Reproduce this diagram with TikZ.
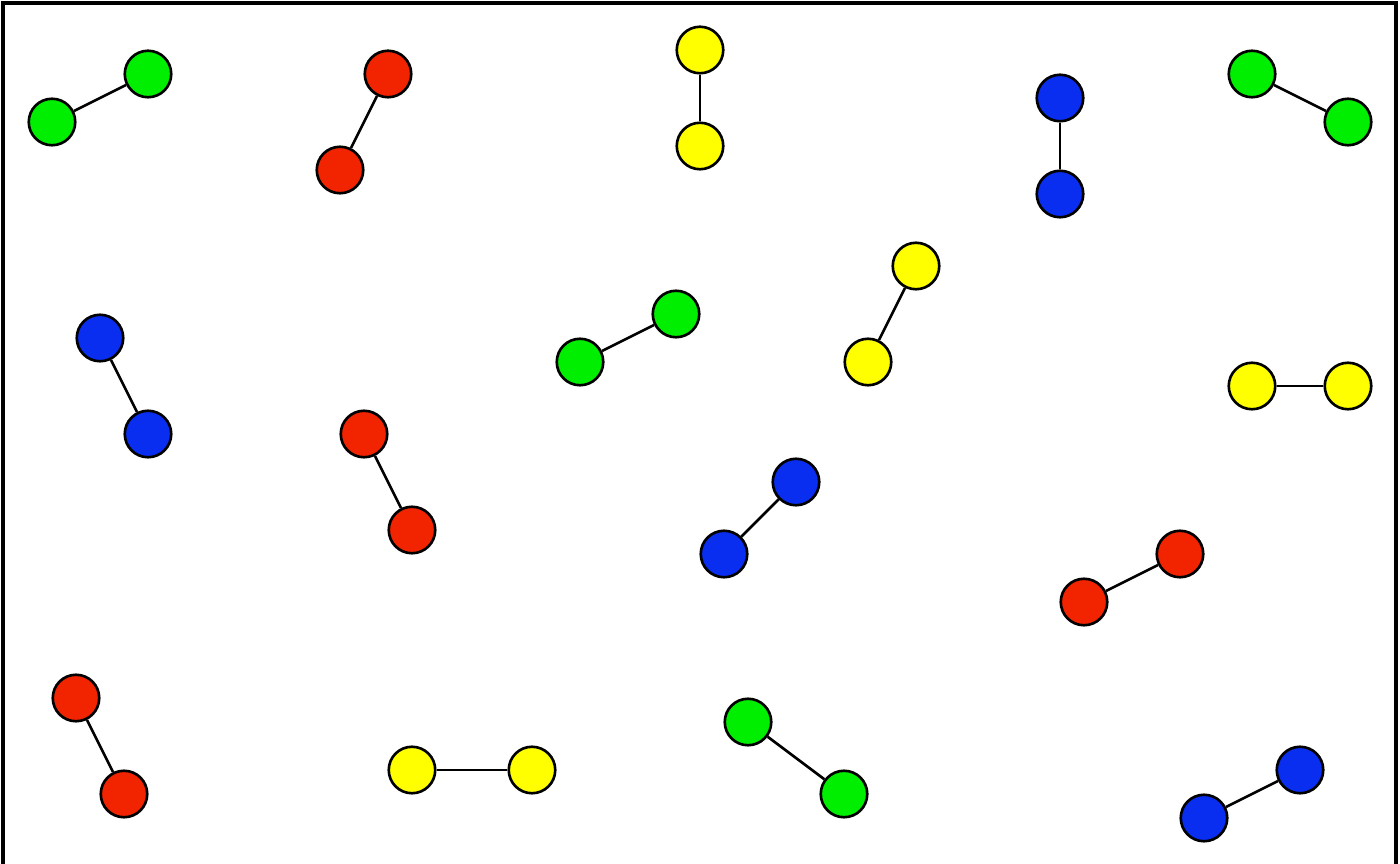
\documentclass[tikz,border=0pt]{standalone}
\usepackage{tikz}
\usetikzlibrary{arrows.meta}
\definecolor{atomgreen}{RGB}{0,238,0}
\definecolor{atomred}{RGB}{242,36,0}
\definecolor{atomyellow}{RGB}{255,255,0}
\definecolor{atomblue}{RGB}{10,46,240}
\begin{document}
\begin{tikzpicture}[x=0.02cm,y=-0.02cm]
\tikzstyle{atom}=[circle,draw=black,line width=1.5pt,inner sep=0pt,minimum size=0.93cm]
\tikzstyle{bond}=[draw=black,line width=1.5pt]
\useasboundingbox (0,0) rectangle (1400,864);
\clip (0,0) rectangle (1400,864);
\draw[line width=1.8pt] (3,3) rectangle (1396,900);
% top row
\node[atom,fill=atomgreen] (g1a) at (52,122) {};
\node[atom,fill=atomgreen] (g1b) at (148,74) {};
\node[atom,fill=atomred] (r1a) at (340,170) {};
\node[atom,fill=atomred] (r1b) at (388,74) {};
\node[atom,fill=atomyellow] (y1a) at (700,50) {};
\node[atom,fill=atomyellow] (y1b) at (700,146) {};
\node[atom,fill=atomblue] (b1a) at (1060,98) {};
\node[atom,fill=atomblue] (b1b) at (1060,194) {};
\node[atom,fill=atomgreen] (g2a) at (1252,74) {};
\node[atom,fill=atomgreen] (g2b) at (1348,122) {};
% middle
\node[atom,fill=atomblue] (b2a) at (100,338) {};
\node[atom,fill=atomblue] (b2b) at (148,434) {};
\node[atom,fill=atomgreen] (g3a) at (580,362) {};
\node[atom,fill=atomgreen] (g3b) at (676,314) {};
\node[atom,fill=atomyellow] (y2a) at (868,362) {};
\node[atom,fill=atomyellow] (y2b) at (916,266) {};
\node[atom,fill=atomyellow] (y3a) at (1252,386) {};
\node[atom,fill=atomyellow] (y3b) at (1348,386) {};
\node[atom,fill=atomred] (r2a) at (364,434) {};
\node[atom,fill=atomred] (r2b) at (412,530) {};
\node[atom,fill=atomblue] (b3a) at (724,554) {};
\node[atom,fill=atomblue] (b3b) at (796,482) {};
\node[atom,fill=atomred] (r3a) at (1084,602) {};
\node[atom,fill=atomred] (r3b) at (1180,554) {};
% bottom row
\node[atom,fill=atomred] (r4a) at (76,698) {};
\node[atom,fill=atomred] (r4b) at (124,794) {};
\node[atom,fill=atomyellow] (y4a) at (412,770) {};
\node[atom,fill=atomyellow] (y4b) at (532,770) {};
\node[atom,fill=atomgreen] (g4a) at (748,722) {};
\node[atom,fill=atomgreen] (g4b) at (844,794) {};
\node[atom,fill=atomblue] (b4a) at (1204,818) {};
\node[atom,fill=atomblue] (b4b) at (1300,770) {};
\foreach \m in {g1,r1,y1,b1,g2,b2,g3,y2,y3,r2,b3,r3,r4,y4,g4,b4}
  \path[bond] (\m a) -- (\m b);
\end{tikzpicture}
\end{document}
